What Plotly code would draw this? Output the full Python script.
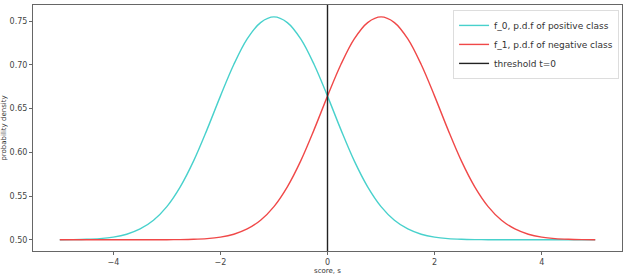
import plotly.graph_objects as go

# score values
x_vals = [-5.0, -4.75, -4.5, -4.25, -4.0, -3.75, -3.5, -3.25, -3.0, -2.75, -2.5,
          -2.25, -2.0, -1.75, -1.5, -1.25, -1.0, -0.75, -0.5, -0.25, 0.0,
          0.25, 0.5, 0.75, 1.0, 1.25, 1.5, 1.75, 2.0, 2.25, 2.5,
          2.75, 3.0, 3.25, 3.5, 3.75, 4.0, 4.25, 4.5, 4.75, 5.0]

# f_0 (positive class)
f0_vals = [0.5001, 0.50025, 0.5006, 0.5014, 0.5031, 0.5064, 0.5124, 0.5224, 0.5380, 0.5606, 0.5903,
           0.6260, 0.6643, 0.7004, 0.7297, 0.7484, 0.7549, 0.7484, 0.7297, 0.7004, 0.6643,
           0.6260, 0.5903, 0.5606, 0.5380, 0.5224, 0.5124, 0.5064, 0.5031, 0.5014, 0.5006,
           0.50025, 0.5001, 0.5000, 0.5000, 0.5000, 0.5000, 0.5000, 0.5000, 0.5000, 0.5000]

# f_1 (negative class)
f1_vals = [0.5000, 0.5000, 0.5000, 0.5000, 0.5000, 0.5000, 0.5000, 0.5000, 0.5001, 0.50025, 0.5006,
           0.5014, 0.5031, 0.5064, 0.5124, 0.5224, 0.5380, 0.5606, 0.5903, 0.6260, 0.6643,
           0.7004, 0.7297, 0.7484, 0.7549, 0.7484, 0.7297, 0.7004, 0.6643, 0.6260, 0.5903,
           0.5606, 0.5380, 0.5224, 0.5124, 0.5064, 0.5031, 0.5014, 0.5006, 0.50025, 0.5001]

threshold = 0.0
x_ticks = [-4, -2, 0, 2, 4]
y_ticks = [0.50, 0.55, 0.60, 0.65, 0.70, 0.75]
y_range = [0.4872, 0.7685]
x_range = [-5.5, 5.5]

names = ["f_0, p.d.f of positive class", "f_1, p.d.f of negative class", "threshold t=0"]

fig = go.Figure()
fig.add_trace(go.Scatter(x=x_vals, y=f0_vals, mode="lines", name=names[0],
                         line=dict(color="#48d1cc", width=1.4, shape="spline")))
fig.add_trace(go.Scatter(x=x_vals, y=f1_vals, mode="lines", name=names[1],
                         line=dict(color="#f04848", width=1.4, shape="spline")))
fig.add_trace(go.Scatter(x=[threshold, threshold], y=y_range, mode="lines", name=names[2],
                         line=dict(color="#222222", width=1.4)))

axis_common = dict(showgrid=False, zeroline=False, showline=True, mirror=True,
                   linecolor="#666666", linewidth=1, ticks="outside", ticklen=3,
                   tickcolor="#666666", tickfont=dict(size=8, color="#444444"))

fig.update_layout(
    width=624, height=275,
    margin=dict(l=33, r=1, t=5, b=20),
    paper_bgcolor="white", plot_bgcolor="white",
    font=dict(family="DejaVu Sans", color="#333333"),
    xaxis=dict(range=x_range, tickvals=x_ticks, ticktext=["\u22124", "\u22122", "0", "2", "4"],
               title=dict(text="score, s", font=dict(size=7), standoff=3), **axis_common),
    yaxis=dict(range=y_range, tickvals=y_ticks, ticktext=["0.50", "0.55", "0.60", "0.65", "0.70", "0.75"],
               title=dict(text="probability density", font=dict(size=7), standoff=4), **axis_common),
    legend=dict(x=0.995, y=0.98, xanchor="right", yanchor="top",
                bgcolor="rgba(255,255,255,0.8)", bordercolor="#dddddd", borderwidth=1,
                font=dict(size=9, color="#333333"), itemwidth=30, tracegroupgap=0),
    showlegend=True,
)

fig.write_html("out.html")
